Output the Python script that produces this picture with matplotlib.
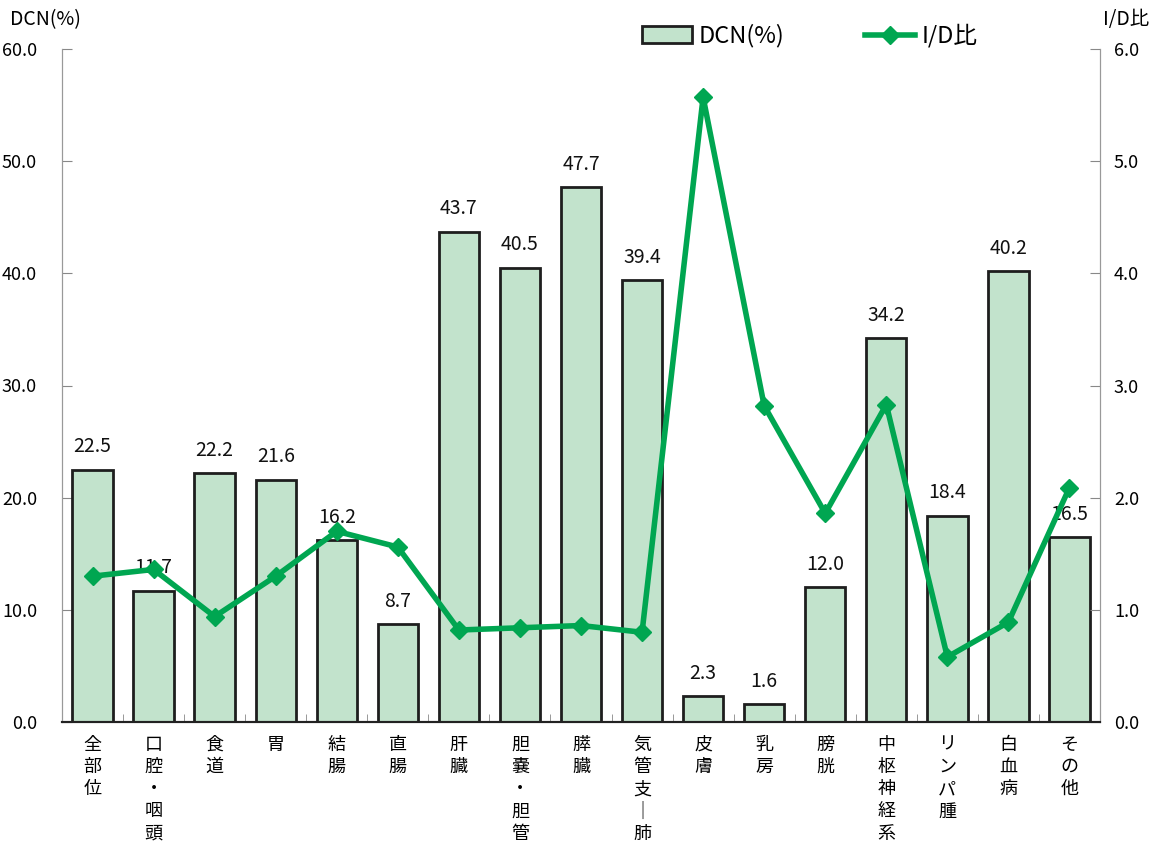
import matplotlib
matplotlib.use("Agg")
import matplotlib.pyplot as plt
import numpy as np

categories = ["全部位", "口腔・咽頭", "食道", "胃", "結腸", "直腸", "肝臓", "胆嚢・胆管",
              "膵臓", "気管支｜肺", "皮膚", "乳房", "膀胱", "中枢神経系", "リンパ腫", "白血病", "その他"]
dcn = [22.5, 11.7, 22.2, 21.6, 16.2, 8.7, 43.7, 40.5, 47.7, 39.4, 2.3, 1.6, 12.0, 34.2, 18.4, 40.2, 16.5]
id_ratio = [1.30, 1.36, 0.94, 1.30, 1.70, 1.56, 0.82, 0.84, 0.86, 0.80, 5.57, 2.82, 1.86, 2.83, 0.58, 0.89, 2.09]
left_ticks = [0, 10, 20, 30, 40, 50, 60]
right_ticks = [0, 1, 2, 3, 4, 5, 6]

plt.rcParams['font.family'] = ['Noto Sans CJK JP', 'DejaVu Sans']

fig = plt.figure(figsize=(11.5, 8.56), dpi=100)
ax = fig.add_axes([62/1150, 1-722/856, (1100-62)/1150, (722-49)/856])
ax2 = ax.twinx()

x = np.arange(len(categories))
ax.bar(x, dcn, width=0.66, color="#c2e3cc", edgecolor="#1e1e1e", linewidth=2,
       label="DCN(%)", zorder=2)
for xi, v in zip(x, dcn):
    ax.text(xi, v + 1.1, f"{v:.1f}", ha="center", va="bottom", fontsize=14, color="#111111")

ax2.plot(x, id_ratio, color="#00a651", linewidth=4, marker="D", markersize=9,
         label="I/D比", zorder=3)

ax.set_xlim(-0.5, len(categories) - 0.5)
ax.set_ylim(0, 60)
ax2.set_ylim(0, 6)
ax.set_yticks(left_ticks)
ax.set_yticklabels([f"{t:.1f}" for t in left_ticks], fontsize=13)
ax2.set_yticks(right_ticks)
ax2.set_yticklabels([f"{t:.1f}" for t in right_ticks], fontsize=13)

ax.set_xticks(x)
ax.set_xticklabels(["\n".join(list(c)) for c in categories], fontsize=13, linespacing=1.3, va="top")
ax.set_xticks(np.arange(len(categories) + 1) - 0.5, minor=True)
ax.tick_params(axis="x", which="major", length=0, pad=10)
ax.tick_params(axis="x", which="minor", length=6, direction="in", color="#888888")
ax.tick_params(axis="y", direction="in", length=7, pad=18, color="#888888")
ax2.tick_params(axis="y", direction="in", length=7, pad=10, color="#888888")

for a in (ax, ax2):
    a.spines["top"].set_visible(False)
    a.spines["left"].set_color("#999999")
    a.spines["right"].set_color("#999999")
    a.spines["bottom"].set_color("#222222")
    a.spines["bottom"].set_linewidth(1.5)

ax2.set_zorder(ax.get_zorder() + 1)
ax2.patch.set_visible(False)

fig.text(10/1150, 1-20/856, "DCN(%)", fontsize=14, ha="left", va="center")
fig.text(1149/1150, 1-20/856, "I/D比", fontsize=14, ha="right", va="center")

h1, l1 = ax.get_legend_handles_labels()
h2, l2 = ax2.get_legend_handles_labels()
fig.legend(h1 + h2, l1 + l2, loc="center", bbox_to_anchor=(810/1150, 1-36/856), ncol=2,
           frameon=False, fontsize=17, handlelength=2.1, columnspacing=3.4, handletextpad=0.3)

fig.savefig("out.png", dpi=100)
